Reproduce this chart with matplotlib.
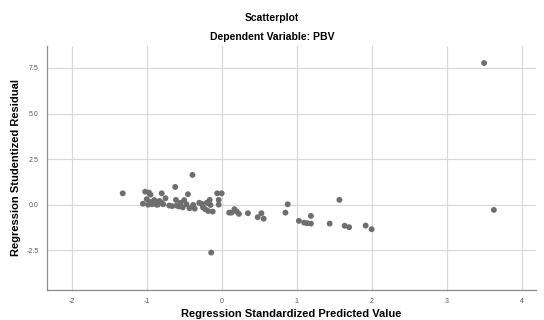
import matplotlib
matplotlib.use("Agg")
import matplotlib.pyplot as plt

plt.rcParams['font.family'] = ['Liberation Sans', 'DejaVu Sans']

# predicted value (standardized) vs studentized residual
pred = [-1.32, -1.05, -1.02, -1.0, -0.98, -0.97, -0.95, -0.95, -0.93, -0.92,
        -0.9, -0.88, -0.87, -0.85, -0.83, -0.8, -0.8, -0.78, -0.75, -0.7,
        -0.66, -0.62, -0.61, -0.6, -0.57, -0.55, -0.52, -0.5, -0.47, -0.45,
        -0.43, -0.39, -0.38, -0.36, -0.3, -0.27, -0.25, -0.22, -0.2, -0.18,
        -0.16, -0.15, -0.14, -0.12, -0.06, -0.04, -0.04, 0.0,
        0.1, 0.13, 0.17, 0.2, 0.23, 0.35, 0.48, 0.53, 0.56, 0.85, 0.88,
        1.03, 1.1, 1.14, 1.19, 1.19, 1.44, 1.57, 1.64, 1.7, 1.92, 2.0,
        3.5, 3.63]
resid = [0.62, 0.05, 0.71, 0.3, 0.0, 0.66, 0.15, 0.55, 0.02, 0.08,
         0.25, 0.1, 0.0, 0.0, 0.2, 0.1, 0.62, 0.02, 0.35, -0.05,
         -0.08, 0.97, 0.26, -0.05, -0.1, 0.1, -0.15, 0.25, 0.02, 0.57,
         -0.2, 1.63, -0.02, -0.22, 0.1, 0.05, -0.15, -0.25, 0.1, -0.35,
         0.26, -0.02, -2.63, -0.38, 0.62, 0.26, 0.0, 0.62,
         -0.44, -0.44, -0.25, -0.38, -0.51, -0.47, -0.69, -0.47, -0.77, -0.44, 0.02,
         -0.89, -0.99, -1.02, -1.04, -0.62, -1.04, 0.26, -1.16, -1.24, -1.15, -1.35,
         7.77, -0.29]

xticks = [-2, -1, 0, 1, 2, 3, 4]
yticks = [-2.5, 0.0, 2.5, 5.0, 7.5]

fig = plt.figure(figsize=(5.44, 3.2), dpi=100)
ax = fig.add_axes([0.0864, 0.094, 0.8986, 0.762])

ax.scatter(pred, resid, s=18, color='#6e6e6e', edgecolors='none', zorder=3)

ax.set_xlim(-2.33, 4.19)
ax.set_ylim(-4.68, 8.7)
ax.set_xticks(xticks)
ax.set_xticklabels([str(t) for t in xticks])
ax.set_yticks(yticks)
ax.set_yticklabels(['%.1f' % t for t in yticks])
ax.grid(True, color='#d8d8d8', linewidth=0.9)
ax.set_axisbelow(True)
for s in ['top', 'right']:
    ax.spines[s].set_visible(False)
for s in ['left', 'bottom']:
    ax.spines[s].set_color('#8c8c8c')
    ax.spines[s].set_linewidth(0.9)
ax.tick_params(length=0, labelsize=5, labelcolor='#555555', pad=6)

ax.set_xlabel('Regression Standardized Predicted Value', fontsize=8,
              fontweight='bold', labelpad=3)
ax.set_ylabel('Regression Studentized Residual', fontsize=8,
              fontweight='bold', labelpad=4)

fig.text(0.5, 0.944, 'Scatterplot', ha='center', va='center',
         fontsize=7.5, fontweight='bold')
fig.text(0.5, 0.884, 'Dependent Variable: PBV', ha='center', va='center',
         fontsize=7.5, fontweight='bold')

fig.savefig('out.png', dpi=100)
